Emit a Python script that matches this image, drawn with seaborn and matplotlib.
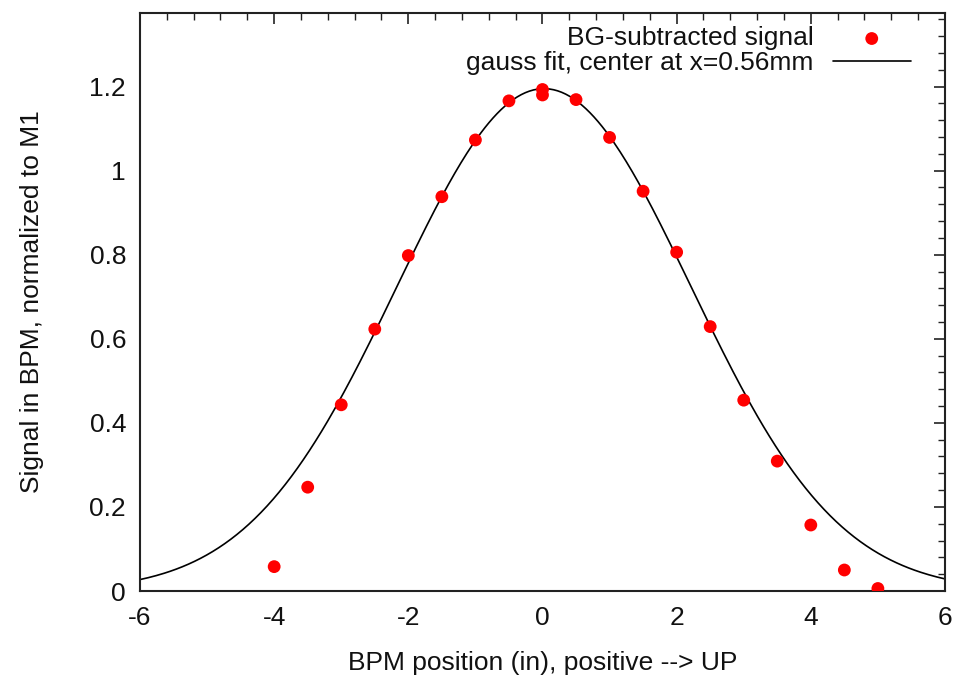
import numpy as np
import pandas as pd
import matplotlib
matplotlib.use("Agg")
import matplotlib.pyplot as plt
import seaborn as sns
from matplotlib.ticker import MultipleLocator

# data
pos_in = [-4.0, -3.5, -3.0, -2.5, -2.0, -1.5, -1.0, -0.5, 0.0, 0.0,
          0.5, 1.0, 1.5, 2.0, 2.5, 3.0, 3.5, 4.0, 4.5, 5.0]
signal = [0.058, 0.247, 0.443, 0.623, 0.798, 0.938, 1.073, 1.166, 1.193, 1.180,
          1.169, 1.079, 0.951, 0.806, 0.629, 0.454, 0.309, 0.157, 0.050, 0.006]

# gaussian fit parameters
fit_amp = 1.195
fit_center = 0.022   # 0.56 mm in inches
fit_sigma = 2.19

x_ticks = [-6, -4, -2, 0, 2, 4, 6]
y_ticks = [0, 0.2, 0.4, 0.6, 0.8, 1.0, 1.2]
y_tick_labels = ["0", "0.2", "0.4", "0.6", "0.8", "1", "1.2"]

label_points = "BG-subtracted signal"
label_fit = "gauss fit, center at x=0.56mm"
xlabel = "BPM position (in), positive --> UP"
ylabel = "Signal in BPM, normalized to M1"

sns.set_style("white")
plt.rcParams['font.family'] = ['Liberation Sans', 'DejaVu Sans']
plt.rcParams['text.color'] = '#111111'
plt.rcParams['axes.labelcolor'] = '#111111'
FS = 19

fig = plt.figure(figsize=(9.55, 6.77), dpi=100)
ax = fig.add_axes([0.1466, 0.127, 0.9895 - 0.1466, 0.9808 - 0.127])

xf = np.linspace(-6, 6, 400)
yf = fit_amp * np.exp(-(xf - fit_center) ** 2 / (2 * fit_sigma ** 2))
df_pts = pd.DataFrame({"x": pos_in, "y": signal})
df_fit = pd.DataFrame({"x": xf, "y": yf})

sns.scatterplot(data=df_pts, x="x", y="y", ax=ax, color="#ff0000", s=85,
                edgecolor="none", label=label_points, zorder=3)
sns.lineplot(data=df_fit, x="x", y="y", ax=ax, color="black", linewidth=1.2,
             label=label_fit, zorder=2)

ax.set_xlim(-6, 6)
ax.set_ylim(0, 1.375)
ax.set_xticks(x_ticks)
ax.set_xticklabels([str(t) for t in x_ticks])
ax.set_yticks(y_ticks)
ax.set_yticklabels(y_tick_labels)
ax.xaxis.set_minor_locator(MultipleLocator(0.4))
ax.yaxis.set_minor_locator(MultipleLocator(0.04))
ax.tick_params(which="both", direction="in", top=True, right=True,
               colors="#222222", labelcolor="#111111", labelsize=FS)
ax.tick_params(which="major", length=8, width=1.2)
ax.tick_params(which="minor", length=5, width=1.0)
ax.tick_params(axis="x", pad=11)
ax.tick_params(axis="y", pad=10)
for s in ax.spines.values():
    s.set_visible(True)
    s.set_color("#222222")
    s.set_linewidth(1.5)

ax.set_xlabel(xlabel, fontsize=FS, labelpad=15)
ax.set_ylabel(ylabel, fontsize=FS, labelpad=33)

ax.legend(loc="upper right", frameon=False, markerfirst=False, fontsize=FS,
          handlelength=2.95, handletextpad=0.72, labelspacing=0.02,
          borderaxespad=0.0, bbox_to_anchor=(0.9705, 0.995))

fig.savefig("out.png", dpi=100)
